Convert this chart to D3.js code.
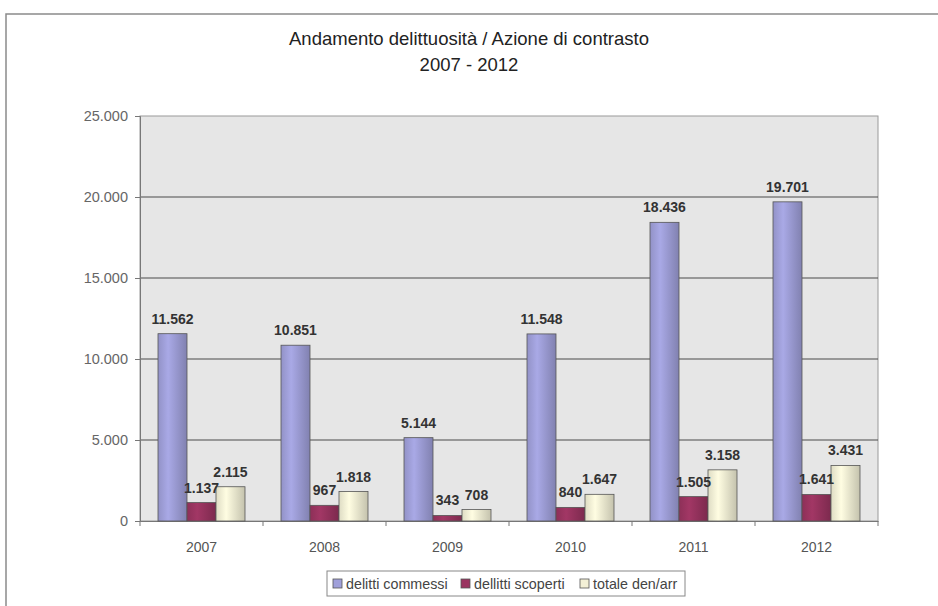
<!DOCTYPE html>
<html>
<head>
<meta charset="utf-8">
<script src="https://cdn.jsdelivr.net/npm/d3@7"></script>
<style>
  body { margin: 0; background: #fff; }
  text { font-family: "Liberation Sans", Arial, sans-serif; }
</style>
</head>
<body>
<div id="chart"></div>
<script>
// data
const years = ["2007", "2008", "2009", "2010", "2011", "2012"];
const series = ["delitti commessi", "dellitti scoperti", "totale den/arr"];
const commessi = [11562, 10851, 5144, 11548, 18436, 19701];
const scoperti = [1137, 967, 343, 840, 1505, 1641];
const totale = [2115, 1818, 708, 1647, 3158, 3431];
const yTicks = [0, 5000, 10000, 15000, 20000, 25000];
const colors = ["#a0a0da", "#9a3460", "#f3f0d6"];

const values = [commessi, scoperti, totale];
const rows = years.map((y, i) => ({ year: y, vals: values.map((s, k) => ({ k: k, v: s[i] })) }));

const fmt = v => d3.format(",")(v).replace(/,/g, ".");

const W = 938, H = 606;
const svg = d3.select("#chart").append("svg").attr("width", W).attr("height", H);

// outer chart frame
svg.append("rect")
    .attr("x", 6).attr("y", 14).attr("width", W + 10).attr("height", H + 10)
    .attr("fill", "#fff").attr("stroke", "#8a8a8a").attr("stroke-width", 1.5);

// title
svg.append("text").attr("x", 469).attr("y", 45).attr("text-anchor", "middle")
    .attr("font-size", 18.5).attr("fill", "#222").text("Andamento delittuosità / Azione di contrasto");
svg.append("text").attr("x", 469).attr("y", 71).attr("text-anchor", "middle")
    .attr("font-size", 18.5).attr("fill", "#222").text("2007 - 2012");

const pLeft = 140, pRight = 878, pTop = 116, pBottom = 521;

const x = d3.scaleBand().domain(years).range([pLeft, pRight]).paddingInner(0).paddingOuter(0);
const x1 = d3.scaleBand().domain([0, 1, 2]).range([18, x.bandwidth() - 18]);
const y = d3.scaleLinear().domain([0, 25000]).range([pBottom, pTop]);

// gradients for the shaded bars
const defs = svg.append("defs");
colors.forEach((c, i) => {
    const g = defs.append("linearGradient").attr("id", "g" + i).attr("x1", "0").attr("x2", "1");
    g.append("stop").attr("offset", "0%").attr("stop-color", d3.color(c).darker(0.25));
    g.append("stop").attr("offset", "35%").attr("stop-color", d3.color(c).brighter(0.15));
    g.append("stop").attr("offset", "100%").attr("stop-color", d3.color(c).darker(0.6));
});

// plot area
svg.append("rect").attr("x", pLeft).attr("y", pTop).attr("width", pRight - pLeft).attr("height", pBottom - pTop)
    .attr("fill", "#e6e6e6").attr("stroke", "#9a9a9a");

// gridlines
svg.append("g").selectAll("line").data(yTicks.filter(t => t > 0 && t < 25000)).join("line")
    .attr("x1", pLeft).attr("x2", pRight).attr("y1", d => y(d)).attr("y2", d => y(d))
    .attr("stroke", "#4a4a4a").attr("stroke-width", 1.2);

// y axis
const yAxis = svg.append("g").attr("transform", `translate(${pLeft},0)`)
    .call(d3.axisLeft(y).tickValues(yTicks).tickFormat(fmt).tickSize(5).tickPadding(7));
yAxis.select(".domain").attr("stroke", "#777");
yAxis.selectAll(".tick line").attr("stroke", "#777");
yAxis.selectAll("text").attr("font-size", 14.5).attr("fill", "#666");

// x axis
const xAxis = svg.append("g").attr("transform", `translate(0,${pBottom})`)
    .call(d3.axisBottom(x).tickSize(0).tickPadding(21));
xAxis.select(".domain").attr("stroke", "#777");
xAxis.selectAll("text").attr("font-size", 14).attr("fill", "#555");
svg.append("g").selectAll("line").data(d3.range(years.length + 1)).join("line")
    .attr("x1", d => pLeft + d * x.bandwidth()).attr("x2", d => pLeft + d * x.bandwidth())
    .attr("y1", pBottom).attr("y2", pBottom + 5).attr("stroke", "#777");

// bars
const groups = svg.append("g").selectAll("g").data(rows).join("g")
    .attr("transform", d => `translate(${x(d.year)},0)`);

groups.selectAll("rect").data(d => d.vals).join("rect")
    .attr("x", d => x1(d.k)).attr("width", x1.bandwidth())
    .attr("y", d => y(d.v)).attr("height", d => pBottom - y(d.v))
    .attr("fill", d => `url(#g${d.k})`).attr("stroke", "#555").attr("stroke-width", 0.8);

groups.selectAll("text").data(d => d.vals).join("text")
    .attr("x", d => x1(d.k) + x1.bandwidth() / 2).attr("y", d => y(d.v) - 10)
    .attr("text-anchor", "middle").attr("font-size", 14).attr("font-weight", "bold")
    .attr("fill", "#333").text(d => fmt(d.v));

// legend
const lg = svg.append("g").attr("transform", "translate(327,571)");
lg.append("rect").attr("width", 358).attr("height", 25).attr("fill", "#fff").attr("stroke", "#888");
const itemX = [6, 134, 253];
series.forEach((s, i) => {
    lg.append("rect").attr("x", itemX[i]).attr("y", 8).attr("width", 9).attr("height", 9)
        .attr("fill", colors[i]).attr("stroke", "#555").attr("stroke-width", 0.8);
    lg.append("text").attr("x", itemX[i] + 13).attr("y", 17.5).attr("font-size", 14.3)
        .attr("fill", "#444").text(s);
});
</script>
</body>
</html>
